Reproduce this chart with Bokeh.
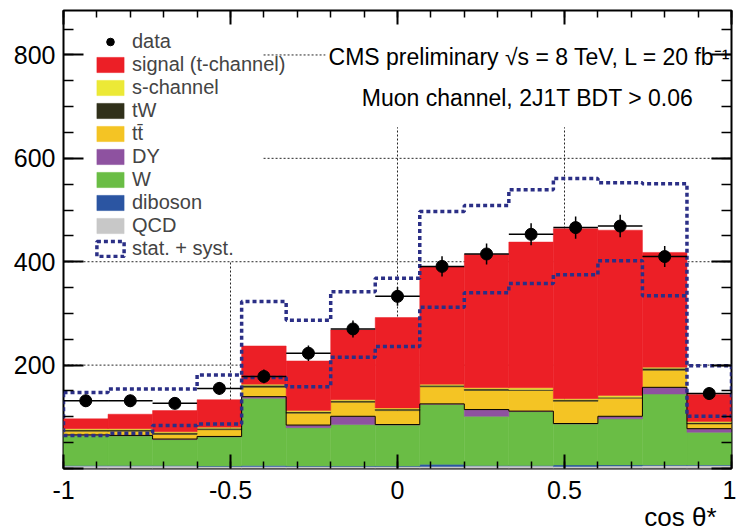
import numpy as np
from bokeh.plotting import figure
from bokeh.models import (Range1d, LinearAxis, SingleIntervalTicker, Legend,
                          LegendItem, Label, Title, CustomJSTickFormatter)
from bokeh.embed import file_html
from bokeh.resources import INLINE

# ---------------- data ----------------
n_bins = 15
x_lo, x_hi = -1.0, 1.0

data_vals = [131, 131, 126, 155, 178, 223, 270, 333, 391, 415, 453, 466, 469, 410, 145]
data_errs = [11.5, 11.5, 11.2, 12.5, 13.3, 15.0, 16.4, 18.2, 19.8, 20.4, 21.3, 21.6, 21.7, 20.2, 12.0]

qcd      = [5, 5, 5, 4, 4, 4, 4, 4, 4, 5, 5, 4, 5, 6, 6]
diboson  = [1, 1, 1, 1, 2, 1, 1, 1, 4, 1, 1, 3, 2, 1, 1]
w_jets   = [58, 57, 50, 56, 130, 74, 80, 79, 116, 95, 104, 79, 89, 137, 63]
dy       = [1, 1, 1, 1, 3, 5, 16, 1, 1, 13, 1, 1, 5, 13, 7]
ttbar    = [7, 8, 9, 13, 18, 23, 27, 27, 33, 37, 40, 43, 35, 33, 9]
tw       = [3, 3, 3, 3, 4, 3, 3, 3, 3, 3, 2, 3, 2, 4, 3]
s_chan   = [2, 2, 2, 2, 2, 2, 2, 2, 2, 2, 3, 2, 3, 2, 2]
signal   = [19, 28, 41, 53, 74, 96, 135, 175, 227, 258, 282, 329, 320, 222, 52]

band_up  = [147, 154, 154, 181, 323, 287, 342, 368, 497, 509, 539, 561, 553, 551, 199]
band_lo  = [64, 68, 83, 86, 176, 158, 215, 236, 312, 340, 358, 375, 402, 334, 101]

# stacking order bottom -> top
stack_names = ["QCD", "diboson", "W", "DY", "t\u0074\u0304", "tW", "s-channel", "signal (t-channel)"]
stack_vals = [qcd, diboson, w_jets, dy, ttbar, tw, s_chan, signal]
stack_cols = ["#c8c8c8", "#2b55a2", "#6abd45", "#8e52a0", "#f4c424", "#30301a", "#ece936", "#ec1f26"]
band_color = "#2b2f86"

# grid lines (style)
hgrid_y  = [200, 400, 600, 800]
hgrid_x0 = [-1.0, -1.0, -0.401, -0.401]
hgrid_x1 = [1.0, 1.0, 1.0, -0.216]
vgrid_x  = [-0.5, 0.0, 0.5]
vgrid_y1 = [401, 660, 660]

FONT = "Liberation Sans"

edges = np.linspace(x_lo, x_hi, n_bins + 1)
lefts, rights = edges[:-1], edges[1:]
centers = 0.5 * (lefts + rights)

p = figure(width=736, height=530, x_range=Range1d(x_lo, x_hi), y_range=Range1d(0, 886),
           output_backend="svg", toolbar_location=None,
           min_border_left=63, min_border_right=5, min_border_top=10, min_border_bottom=62)
p.xgrid.visible = False
p.ygrid.visible = False
p.outline_line_color = "black"
p.outline_line_width = 2
p.background_fill_color = "white"
p.border_fill_color = "white"

# grid (dotted)
p.segment(x0=hgrid_x0, y0=hgrid_y, x1=hgrid_x1, y1=hgrid_y,
          line_color="black", line_width=1, line_dash="2 2", line_alpha=0.85)
p.segment(x0=vgrid_x, y0=[0] * len(vgrid_x), x1=vgrid_x, y1=vgrid_y1,
          line_color="black", line_width=1, line_dash="2 2", line_alpha=0.85)

# stacked histograms
bottom = np.zeros(n_bins)
stack_r = {}
for name, vals, col in zip(stack_names, stack_vals, stack_cols):
    top = bottom + np.array(vals, dtype=float)
    r = p.quad(left=lefts, right=rights, bottom=bottom, top=top,
               fill_color=col, line_color=col, line_width=0.5)
    stack_r[name] = r
    if name == "DY":
        dy_top = top.copy()
    bottom = top

# thin black outline on top of W+DY
p.step(x=list(edges), y=list(dy_top) + [dy_top[-1]], mode="after",
       line_color="black", line_width=1)

# stat + syst band (closed dashed outline)
bx, by = [], []
for i in range(n_bins):
    bx += [lefts[i], rights[i]]
    by += [band_up[i], band_up[i]]
for i in reversed(range(n_bins)):
    bx += [rights[i], lefts[i]]
    by += [band_lo[i], band_lo[i]]
r_band = p.patch(bx, by, fill_alpha=0, line_color=band_color, line_width=3.5, line_dash="4 3")

# data with error bars
dv = np.array(data_vals, dtype=float)
de = np.array(data_errs, dtype=float)
p.segment(x0=lefts, y0=dv, x1=rights, y1=dv, line_color="black", line_width=1.5)
p.segment(x0=centers, y0=dv - de, x1=centers, y1=dv + de, line_color="black", line_width=1.5)
r_data = p.scatter(centers, dv, size=12, marker="circle", fill_color="black", line_color="black")

# axes
def style_axis(ax, major_in, minor_in, show_labels):
    ax.axis_line_color = None
    ax.major_tick_in = major_in
    ax.major_tick_out = 0
    ax.minor_tick_in = minor_in
    ax.minor_tick_out = 0
    ax.major_tick_line_color = "black"
    ax.minor_tick_line_color = "black"
    ax.major_tick_line_width = 2
    ax.minor_tick_line_width = 1.5
    if show_labels:
        ax.major_label_text_font = FONT
        ax.major_label_text_font_size = "25px"
        ax.major_label_text_color = "black"
    else:
        ax.formatter = CustomJSTickFormatter(code="return ''")
        ax.major_label_standoff = 0

xt = SingleIntervalTicker(interval=0.5, num_minor_ticks=5)
yt = SingleIntervalTicker(interval=200, num_minor_ticks=4)
p.xaxis[0].ticker = xt
p.yaxis[0].ticker = yt
style_axis(p.xaxis[0], 14, 7, True)
style_axis(p.yaxis[0], 20, 10, True)
p.xaxis[0].major_label_standoff = 12
p.yaxis[0].major_label_standoff = 8
p.xaxis[0].major_label_overrides = {-1: "-1", -0.5: "-0.5", 0: "0", 0.5: "0.5", 1: "1"}
p.yaxis[0].major_label_overrides = {0: ""}

top_ax = LinearAxis(ticker=SingleIntervalTicker(interval=0.5, num_minor_ticks=5))
style_axis(top_ax, 14, 7, False)
p.add_layout(top_ax, "above")
right_ax = LinearAxis(ticker=SingleIntervalTicker(interval=200, num_minor_ticks=4))
style_axis(right_ax, 20, 10, False)
p.add_layout(right_ax, "right")

# x-axis title at the right end
p.add_layout(Title(text="cos \u03b8*", align="right", vertical_align="bottom", offset=15,
                   standoff=-4, text_font=FONT, text_font_size="26px",
                   text_font_style="normal", text_color="black"), "below")

# legend
legend_order = ["signal (t-channel)", "s-channel", "tW", "t\u0074\u0304", "DY", "W", "diboson", "QCD"]
items = [LegendItem(label="data", renderers=[r_data])]
for nm in legend_order:
    items.append(LegendItem(label=nm, renderers=[stack_r[nm]]))
items.append(LegendItem(label="stat. + syst.", renderers=[r_band]))
legend = Legend(items=items, location=(30, 208), background_fill_alpha=0,
                border_line_color=None, label_text_font=FONT, label_text_font_size="20px",
                glyph_width=34, glyph_height=19, label_standoff=5, spacing=-1,
                padding=0, margin=0, label_height=20)
p.add_layout(legend)

# texts
p.add_layout(Label(x=0.405, y=797, text="CMS preliminary  \u221as = 8 TeV, L = 20 fb\u207b\u00b9",
                   text_align="center", text_baseline="middle", text_font=FONT,
                   text_font_size="23px", text_color="black"))
p.add_layout(Label(x=0.39, y=717, text="Muon channel, 2J1T BDT > 0.06",
                   text_align="center", text_baseline="middle", text_font=FONT,
                   text_font_size="23px", text_color="black"))

open("out.html", "w").write(file_html(p, INLINE))
